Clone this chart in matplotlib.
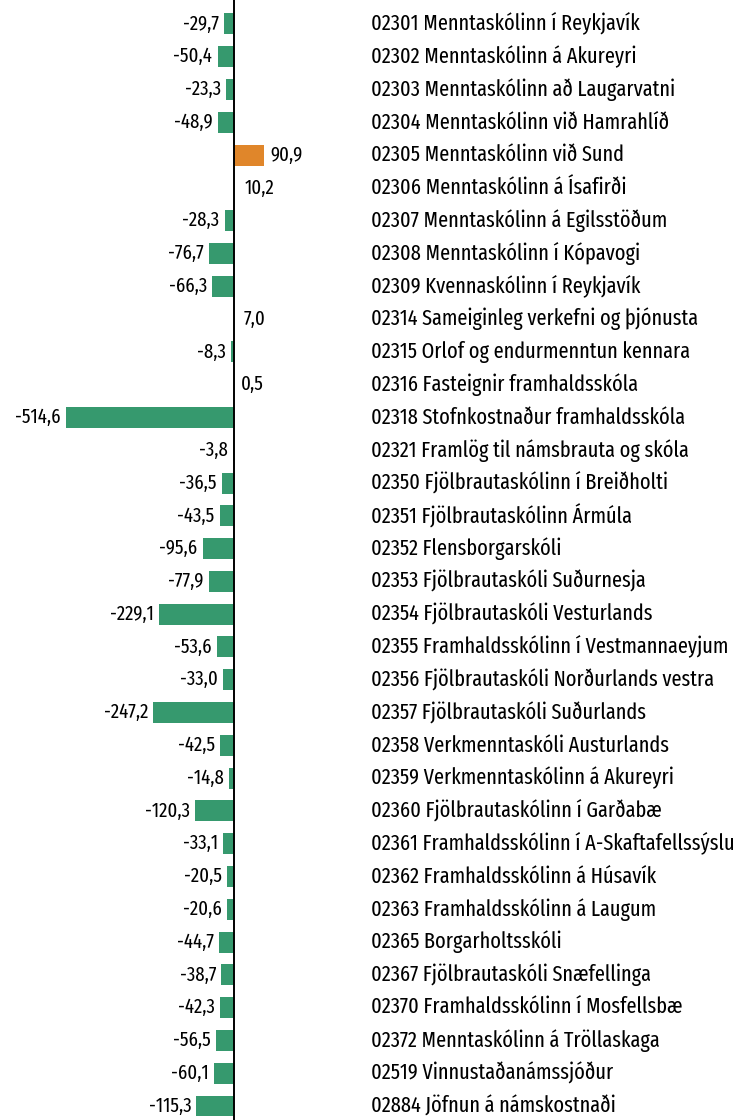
import matplotlib.pyplot as plt

names = ["02301 Menntaskólinn í Reykjavík", "02302 Menntaskólinn á Akureyri",
         "02303 Menntaskólinn að Laugarvatni", "02304 Menntaskólinn við Hamrahlíð",
         "02305 Menntaskólinn við Sund", "02306 Menntaskólinn á Ísafirði",
         "02307 Menntaskólinn á Egilsstöðum", "02308 Menntaskólinn í Kópavogi",
         "02309 Kvennaskólinn í Reykjavík", "02314 Sameiginleg verkefni og þjónusta",
         "02315 Orlof og endurmenntun kennara", "02316 Fasteignir framhaldsskóla",
         "02318 Stofnkostnaður framhaldsskóla", "02321 Framlög til námsbrauta og skóla",
         "02350 Fjölbrautaskólinn í Breiðholti", "02351 Fjölbrautaskólinn Ármúla",
         "02352 Flensborgarskóli", "02353 Fjölbrautaskóli Suðurnesja",
         "02354 Fjölbrautaskóli Vesturlands", "02355 Framhaldsskólinn í Vestmannaeyjum",
         "02356 Fjölbrautaskóli Norðurlands vestra", "02357 Fjölbrautaskóli Suðurlands",
         "02358 Verkmenntaskóli Austurlands", "02359 Verkmenntaskólinn á Akureyri",
         "02360 Fjölbrautaskólinn í Garðabæ", "02361 Framhaldsskólinn í A-Skaftafellssýslu",
         "02362 Framhaldsskólinn á Húsavík", "02363 Framhaldsskólinn á Laugum",
         "02365 Borgarholtsskóli", "02367 Fjölbrautaskóli Snæfellinga",
         "02370 Framhaldsskólinn í Mosfellsbæ", "02372 Menntaskólinn á Tröllaskaga",
         "02519 Vinnustaðanámssjóður", "02884 Jöfnun á námskostnaði"]
values = [-29.7, -50.4, -23.3, -48.9, 90.9, 10.2, -28.3, -76.7, -66.3, 7.0, -8.3, 0.5,
          -514.6, -3.8, -36.5, -43.5, -95.6, -77.9, -229.1, -53.6, -33.0, -247.2,
          -42.5, -14.8, -120.3, -33.1, -20.5, -20.6, -44.7, -38.7, -42.3, -56.5,
          -60.1, -115.3]

plt.rcParams['font.family'] = ['Fira Sans Extra Condensed', 'Fira Sans Condensed', 'DejaVu Sans']

green = '#36996E'
orange = '#E0862A'
colors = []
for v in values:
    if v < 0:
        colors.append(green)
    elif v > 50:
        colors.append(orange)
    else:
        colors.append('white')

fig = plt.figure(figsize=(7.38, 11.2), dpi=100)
ax = fig.add_axes([0, 0, 1, 1])

pxu = 168 / 514.6  # pixels per unit
ax.set_xlim(-234 / pxu, (738 - 234) / pxu)
rowh = 32.8
ax.set_ylim(33 + 14 / rowh, -24 / rowh)

ypos = list(range(len(values)))
ax.barh(ypos, values, height=0.64, color=colors)
ax.axvline(0, color='black', lw=1.4)

for i, v in enumerate(values):
    s = f"{v:.1f}".replace('.', ',')
    if v < 0:
        ax.text(v - 16, i, s, ha='right', va='center', fontsize=14.7)
    else:
        ax.text(v + 22, i, s, ha='left', va='center', fontsize=14.7)
    ax.text(371 / 738, i, names[i], ha='left', va='center', fontsize=15.9,
            transform=ax.get_yaxis_transform())

ax.axis('off')
fig.savefig('out.png', dpi=100)
